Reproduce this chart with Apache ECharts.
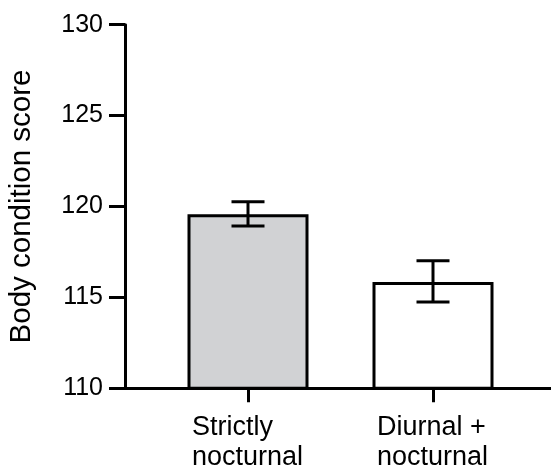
<!DOCTYPE html>
<html>
<head>
<meta charset="utf-8">
<script src="https://cdn.jsdelivr.net/npm/echarts@6/dist/echarts.min.js"></script>
<style>html,body{margin:0;padding:0;background:#fff}#c{width:551px;height:466px}</style>
</head>
<body>
<div id="c"></div>
<script>
var categories = ['Strictly\nnocturnal', 'Diurnal +\nnocturnal'];
var means = [119.57, 115.85];
var errLow = [118.93, 114.75];
var errHigh = [120.26, 117.02];
var barColors = ['#d1d2d4', '#ffffff'];
var yTicks = [110, 115, 120, 125, 130];

(function () {
var chart = echarts.init(document.getElementById('c'));
var font = 'Liberation Sans, Arial, sans-serif';
var gTop = 24.7, gBottom = 77.7;

var errData = categories.map(function (c, i) { return [i, errLow[i], errHigh[i]]; });

chart.setOption({
  animation: false,
  backgroundColor: '#fff',
  grid: [
    { left: 155.5, right: 25.5, top: gTop, bottom: gBottom, containLabel: false, outerBoundsMode: 'none' },
    { left: 125, right: 0, top: gTop, bottom: gBottom, containLabel: false, outerBoundsMode: 'none' }
  ],
  xAxis: [
    {
      type: 'category', gridIndex: 0, data: categories,
      axisLine: { show: false },
      axisTick: { show: true, alignWithLabel: true, length: 14, lineStyle: { color: '#000', width: 3 } },
      axisLabel: {
        interval: 0, hideOverlap: false,
        margin: 24, color: '#000', fontFamily: font, fontSize: 27,
        formatter: function (v) { return v.split('\n').map(function (s) { return '{a|' + s + '}'; }).join('\n'); },
        rich: { a: { width: 112, align: 'left', fontSize: 27, lineHeight: 30, color: '#000', fontFamily: font } }
      },
      splitLine: { show: false }
    },
    {
      type: 'value', gridIndex: 1, min: 0, max: 1,
      axisLine: { show: true, onZero: false, lineStyle: { color: '#000', width: 3 } },
      axisTick: { show: false }, axisLabel: { show: false }, splitLine: { show: false }
    }
  ],
  yAxis: [
    {
      type: 'value', gridIndex: 0, min: yTicks[0], max: yTicks[yTicks.length - 1], interval: 5,
      show: false
    },
    {
      type: 'value', gridIndex: 1, min: yTicks[0], max: yTicks[yTicks.length - 1], interval: 5,
      name: 'Body condition score', nameLocation: 'middle', nameGap: 88,
      nameTextStyle: { color: '#000', fontFamily: font, fontSize: 29.5 },
      axisLine: { show: true, lineStyle: { color: '#000', width: 3 } },
      axisTick: { show: true, length: 16, lineStyle: { color: '#000', width: 3 } },
      axisLabel: { margin: 22, color: '#000', fontFamily: font, fontSize: 25 },
      splitLine: { show: false }
    }
  ],
  series: [
    {
      type: 'bar', xAxisIndex: 0, yAxisIndex: 0, barWidth: 121,
      data: means.map(function (m, i) {
        return { value: m, itemStyle: { color: barColors[i], borderColor: '#000', borderWidth: 3 } };
      }),
      z: 2
    },
    {
      type: 'custom', xAxisIndex: 0, yAxisIndex: 0, data: errData, z: 3,
      renderItem: function (params, api) {
        var x = api.value(0);
        var lo = api.coord([x, api.value(1)]);
        var hi = api.coord([x, api.value(2)]);
        var hw = 16.5;
        var st = { stroke: '#000', lineWidth: 3, fill: null };
        return {
          type: 'group',
          children: [
            { type: 'line', shape: { x1: lo[0], y1: lo[1], x2: hi[0], y2: hi[1] }, style: st },
            { type: 'line', shape: { x1: hi[0] - hw, y1: hi[1], x2: hi[0] + hw, y2: hi[1] }, style: st },
            { type: 'line', shape: { x1: lo[0] - hw, y1: lo[1], x2: lo[0] + hw, y2: lo[1] }, style: st }
          ]
        };
      }
    }
  ]
});
})();
</script>
</body>
</html>
